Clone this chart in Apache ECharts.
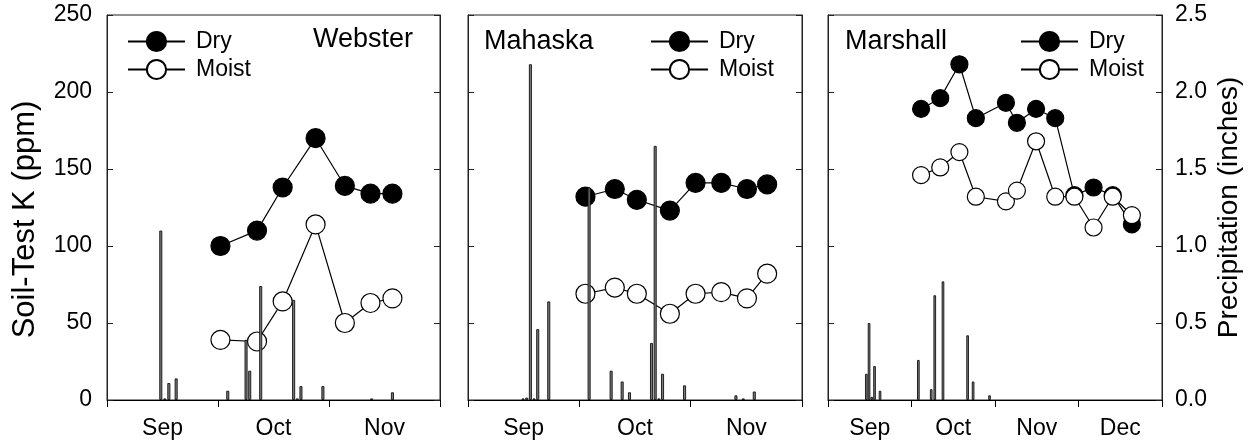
<!DOCTYPE html>
<html>
<head>
<meta charset="utf-8">
<script src="https://cdn.jsdelivr.net/npm/echarts@6/dist/echarts.min.js"></script>
<style>
html,body{margin:0;padding:0;background:#fff;}
#chart{width:1255px;height:444px;}
</style>
</head>
<body>
<div id="chart"></div>
<script>
// ---- data (x = days after Sep 1) ----
const monthsA = ['Sep', 'Oct', 'Nov'];
const monthsB = ['Sep', 'Oct', 'Nov', 'Dec'];
const kTicks = [0, 50, 100, 150, 200, 250];
const pTicks = [0.0, 0.5, 1.0, 1.5, 2.0, 2.5];

const webDays = [31, 41, 48, 57, 65, 72, 78];
const webDry = [100, 110, 138, 170, 139, 134, 134];
const webMoist = [39, 38, 64, 114, 50, 63, 66];
const webRainDays = [14.7, 15.8, 16.9, 18.9, 33, 38, 39, 42, 51, 52, 53, 59, 72.3, 78];
const webRain = [1.10, 0.01, 0.11, 0.14, 0.06, 0.39, 0.19, 0.74, 0.65, 0.01, 0.09, 0.09, 0.01, 0.05];

const mahDays = [32, 40, 46, 55, 62, 69, 76, 81.5];
const mahDry = [132, 137, 130, 123, 141, 141, 137, 140];
const mahMoist = [69, 73, 69, 56, 69, 70, 66, 82];
const mahRainDays = [15, 16, 17, 18, 19, 22, 33, 39, 42, 44, 50, 51, 52, 53, 59, 73, 75, 78];
const mahRain = [0.01, 0.015, 2.18, 0.01, 0.46, 0.64, 1.38, 0.19, 0.12, 0.05, 0.37, 1.65, 0.01, 0.17, 0.095, 0.03, 0.01, 0.055];

const marDays = [34, 41, 48, 54, 65, 69, 76, 83, 90, 97, 104, 111];
const marDry = [189, 196, 218, 183, 193, 180, 189, 183, 133, 138, 133, 114];
const marMoist = [146, 151, 161, 132, 129, 136, 168, 132, 132, 112, 132, 120];
const marRainDays = [14, 15, 16, 17, 19, 33, 37.7, 39, 42, 51, 53, 59];
const marRain = [0.17, 0.50, 0.02, 0.22, 0.06, 0.26, 0.07, 0.68, 0.77, 0.42, 0.12, 0.03];

// ---- chart ----
const FONT = '"Liberation Sans", Arial, sans-serif';
const zip = (xs, ys) => xs.map((x, i) => [x, ys[i]]);

const grids = [
  {left: 107, top: 15, width: 333, height: 385},
  {left: 468, top: 15, width: 334, height: 385},
  {left: 828, top: 15, width: 334, height: 385}
].map(g => Object.assign(g, {show: true, borderColor: '#222', borderWidth: 1, containLabel: false}));

function catAxis(gi, months) {
  return {
    type: 'category', gridIndex: gi, data: months, boundaryGap: true, position: 'bottom',
    axisLine: {lineStyle: {color: '#000', width: 1}},
    axisTick: {show: true, inside: false, length: 7, lineStyle: {color: '#000'}},
    axisLabel: {color: '#000', fontSize: 23, fontFamily: FONT, margin: 17},
    splitLine: {show: false}
  };
}
function valX(gi, max) {
  return {type: 'value', gridIndex: gi, min: 0, max: max, show: false};
}
function yAxis(gi, kind, showLabel, pos, name) {
  const isK = kind === 'k';
  const ax = {
    type: 'value', gridIndex: gi, position: pos,
    min: 0, max: isK ? 250 : 2.5, interval: isK ? 50 : 0.5,
    axisLine: {show: true, lineStyle: {color: '#222', width: 1}},
    axisTick: {show: true, inside: true, length: 6, lineStyle: {color: '#222'}},
    axisLabel: {show: showLabel, color: '#000', fontSize: 23, fontFamily: FONT, margin: isK ? 15 : 13,
      formatter: v => isK ? String(v) : v.toFixed(1)},
    splitLine: {show: false}
  };
  if (name) {
    ax.name = name;
    ax.nameLocation = 'middle';
    ax.nameGap = isK ? 66 : 53;
    ax.nameTextStyle = isK
      ? {color: '#000', fontSize: 31, fontFamily: FONT, padding: [0, 24, 0, 0]}
      : {color: '#000', fontSize: 28, fontFamily: FONT};
  }
  return ax;
}

const xAxes = [
  catAxis(0, monthsA), valX(0, 91),
  catAxis(1, monthsA), valX(1, 91),
  catAxis(2, monthsB), valX(2, 122)
];
const yAxes = [
  yAxis(0, 'k', true, 'left', 'Soil-Test K (ppm)'), yAxis(0, 'p', false, 'right'),
  yAxis(1, 'k', false, 'left'), yAxis(1, 'p', false, 'right'),
  yAxis(2, 'k', false, 'left'), yAxis(2, 'p', true, 'right', 'Precipitation (inches)')
];

function lineSeries(name, xi, yi, days, vals, filled, size, z) {
  return {
    name: name, type: 'line', xAxisIndex: xi, yAxisIndex: yi,
    data: zip(days, vals), symbol: 'circle', symbolSize: size, z: z,
    lineStyle: {color: '#000', width: 1.2},
    itemStyle: {color: filled ? '#000' : '#fff', borderColor: '#000', borderWidth: 1.2, opacity: 1},
    emphasis: {disabled: true}, animation: false
  };
}
function barSeries(xi, yi, days, vals, w) {
  return {
    type: 'bar', xAxisIndex: xi, yAxisIndex: yi, data: zip(days, vals), barWidth: w, z: 5,
    itemStyle: {color: '#7a7a7a', borderColor: '#111', borderWidth: 0.9},
    emphasis: {disabled: true}, animation: false
  };
}

const series = [
  lineSeries('Dry', 1, 0, webDays, webDry, true, 19, 2),
  lineSeries('Moist', 1, 0, webDays, webMoist, false, 19, 3),
  barSeries(1, 1, webRainDays, webRain, 3),
  lineSeries('Dry', 3, 2, mahDays, mahDry, true, 19, 2),
  lineSeries('Moist', 3, 2, mahDays, mahMoist, false, 19, 3),
  barSeries(3, 3, mahRainDays, mahRain, 3),
  lineSeries('Dry', 5, 4, marDays, marDry, true, 17, 2),
  lineSeries('Moist', 5, 4, marDays, marMoist, false, 17, 3),
  barSeries(5, 5, marRainDays, marRain, 2.6)
];

function legend(left) {
  return {
    left: left, top: 30, orient: 'vertical', padding: 0,
    itemWidth: 57, itemHeight: 24, itemGap: 5,
    data: ['Dry', 'Moist'], selectedMode: false,
    textStyle: {color: '#000', fontSize: 23, fontFamily: FONT, padding: [0, 0, 0, 6]}
  };
}

const titleStyle = {color: '#000', fontSize: 27, fontWeight: 'normal', fontFamily: FONT};
const option = {
  backgroundColor: '#fff',
  animation: false,
  title: [
    {text: 'Webster', left: 313, top: 26, padding: 0, textStyle: titleStyle},
    {text: 'Mahaska', left: 484, top: 28, padding: 0, textStyle: titleStyle},
    {text: 'Marshall', left: 845, top: 28, padding: 0, textStyle: titleStyle}
  ],
  legend: [legend(127), legend(650), legend(1020)],
  grid: grids,
  xAxis: xAxes,
  yAxis: yAxes,
  series: series
};

const chart = echarts.init(document.getElementById('chart'), null, {renderer: 'canvas'});
chart.setOption(option);
</script>
</body>
</html>
